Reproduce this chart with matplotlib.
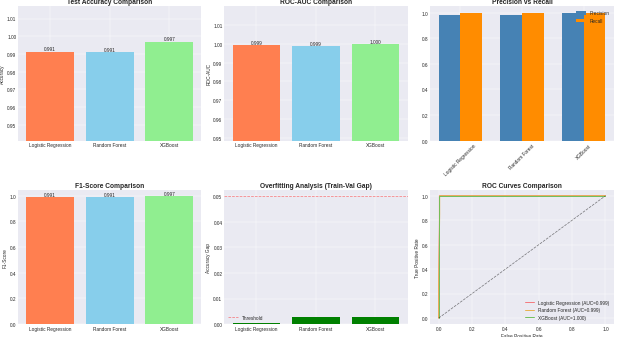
import numpy as np
import matplotlib
matplotlib.use("Agg")
import matplotlib.pyplot as plt

plt.style.use('seaborn-v0_8-darkgrid')

models = ['Logistic Regression', 'Random Forest', 'XGBoost']
bar_colors = ['coral', 'skyblue', 'lightgreen']

accuracy = [0.9914, 0.9910, 0.9970]
roc_auc = [0.9993, 0.9986, 0.9999]
precision = [0.9830, 0.9830, 0.9940]
recall = [1.0, 1.0, 1.0]
f1 = [0.9914, 0.9912, 0.9970]
gap = [0.0003, 0.0028, 0.0026]
threshold = 0.05

# roc curves (fpr, tpr)
roc_fpr = {
    'Logistic Regression': [0.0, 0.0, 0.004, 0.004, 1.0],
    'Random Forest': [0.0, 0.0, 0.006, 0.006, 1.0],
    'XGBoost': [0.0, 0.0, 0.0, 0.005, 1.0],
}
roc_tpr = {
    'Logistic Regression': [0.0, 0.25, 0.8, 1.0, 1.0],
    'Random Forest': [0.0, 0.3, 0.85, 1.0, 1.0],
    'XGBoost': [0.0, 0.2, 1.0, 1.0, 1.0],
}
roc_colors = ['#f4777b', '#e8b04a', '#6fbf5a']

fig, axes = plt.subplots(2, 3, figsize=(18, 9.81), dpi=620 / 18)
fig.subplots_adjust(left=0.029, right=0.99, top=0.979, bottom=0.038,
                    wspace=0.124, hspace=0.364)


def value_labels(ax, bars, vals):
    for b, v in zip(bars, vals):
        ax.text(b.get_x() + b.get_width() / 2, b.get_height(), f'{v:.3f}',
                ha='center', va='bottom', fontsize=10)


x = np.arange(len(models))

ax = axes[0, 0]
bars = ax.bar(models, accuracy, color=bar_colors)
value_labels(ax, bars, accuracy)
ax.set_ylim(min(accuracy) - 0.05, max(accuracy) + 0.02)
ax.set_title('Test Accuracy Comparison', fontsize=14, fontweight='bold')
ax.set_ylabel('Accuracy')

ax = axes[0, 1]
bars = ax.bar(models, roc_auc, color=bar_colors)
value_labels(ax, bars, roc_auc)
ax.set_ylim(min(roc_auc) - 0.05, max(roc_auc) + 0.02)
ax.set_title('ROC-AUC Comparison', fontsize=14, fontweight='bold')
ax.set_ylabel('ROC-AUC')

ax = axes[0, 2]
w = 0.35
ax.bar(x - w / 2, precision, w, label='Precision', color='steelblue')
ax.bar(x + w / 2, recall, w, label='Recall', color='darkorange')
ax.set_xticks(x)
ax.set_xticklabels(models, rotation=45)
ax.set_title('Precision vs Recall', fontsize=14, fontweight='bold')
ax.legend()

ax = axes[1, 0]
bars = ax.bar(models, f1, color=bar_colors)
value_labels(ax, bars, f1)
ax.set_title('F1-Score Comparison', fontsize=14, fontweight='bold')
ax.set_ylabel('F1-Score')

ax = axes[1, 1]
gap_colors = ['green' if g < threshold else 'red' for g in gap]
ax.bar(models, gap, color=gap_colors)
ax.axhline(y=threshold, color='r', linestyle='--', alpha=0.5, label='Threshold')
ax.set_title('Overfitting Analysis (Train-Val Gap)', fontsize=14, fontweight='bold')
ax.set_ylabel('Accuracy Gap')
ax.legend()

ax = axes[1, 2]
for m, c, auc in zip(models, roc_colors, roc_auc):
    ax.plot(roc_fpr[m], roc_tpr[m], color=c, lw=2, label=f'{m} (AUC={auc:.3f})')
ax.plot([0, 1], [0, 1], 'k--', alpha=0.5)
ax.set_xlabel('False Positive Rate')
ax.set_ylabel('True Positive Rate')
ax.set_title('ROC Curves Comparison', fontsize=14, fontweight='bold')
ax.legend(loc='lower right')

fig.savefig('out.png', dpi=620 / 18)
